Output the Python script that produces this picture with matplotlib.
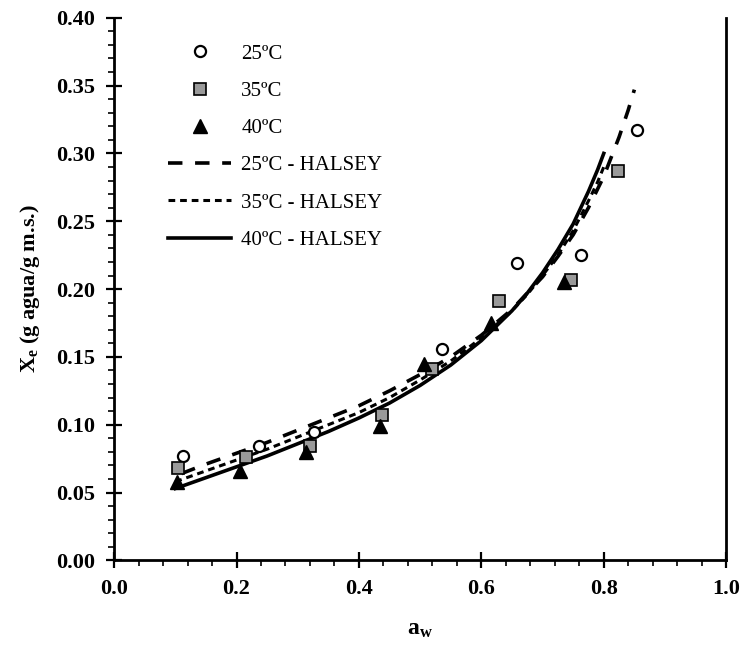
import matplotlib
matplotlib.use("Agg")
import matplotlib.pyplot as plt
from matplotlib.ticker import MultipleLocator, FormatStrFormatter

plt.rcParams['font.family'] = ['Liberation Serif', 'DejaVu Serif']
plt.rcParams['mathtext.fontset'] = 'custom'
plt.rcParams['mathtext.rm'] = 'Liberation Serif'
plt.rcParams['mathtext.bf'] = 'Liberation Serif:bold'
plt.rcParams['mathtext.it'] = 'Liberation Serif:italic'

# experimental data
aw_25 = [0.112, 0.236, 0.326, 0.536, 0.659, 0.763, 0.854]
xe_25 = [0.077, 0.084, 0.095, 0.156, 0.219, 0.225, 0.317]

aw_35 = [0.105, 0.216, 0.320, 0.438, 0.520, 0.629, 0.746, 0.823]
xe_35 = [0.068, 0.076, 0.084, 0.107, 0.141, 0.191, 0.207, 0.287]

aw_40 = [0.103, 0.205, 0.314, 0.434, 0.506, 0.615, 0.735]
xe_40 = [0.058, 0.066, 0.080, 0.099, 0.145, 0.175, 0.205]

# HALSEY model curves
aw_h25 = [0.11, 0.15, 0.20, 0.25, 0.30, 0.35, 0.40, 0.45, 0.50, 0.55, 0.60, 0.65,
          0.675, 0.70, 0.725, 0.75, 0.775, 0.80, 0.825, 0.84, 0.85]
xe_h25 = [0.064, 0.071, 0.079, 0.087, 0.096, 0.105, 0.114, 0.125, 0.137, 0.150, 0.166, 0.185,
          0.197, 0.209, 0.224, 0.240, 0.260, 0.283, 0.312, 0.332, 0.347]

aw_h35 = [0.10, 0.15, 0.20, 0.25, 0.30, 0.35, 0.40, 0.45, 0.50, 0.55, 0.60, 0.65,
          0.675, 0.70, 0.725, 0.75, 0.775, 0.79, 0.80]
xe_h35 = [0.058, 0.066, 0.074, 0.082, 0.091, 0.100, 0.109, 0.120, 0.133, 0.147, 0.164, 0.184,
          0.196, 0.210, 0.225, 0.243, 0.265, 0.279, 0.290]

aw_h40 = [0.10, 0.15, 0.20, 0.25, 0.30, 0.35, 0.40, 0.45, 0.50, 0.55, 0.60, 0.65,
          0.675, 0.70, 0.725, 0.75, 0.775, 0.79, 0.80]
xe_h40 = [0.053, 0.061, 0.069, 0.077, 0.086, 0.095, 0.105, 0.116, 0.129, 0.144, 0.162, 0.184,
          0.197, 0.212, 0.229, 0.248, 0.272, 0.288, 0.300]

x_ticks = [0.0, 0.2, 0.4, 0.6, 0.8, 1.0]
y_ticks = [0.00, 0.05, 0.10, 0.15, 0.20, 0.25, 0.30, 0.35, 0.40]

fig = plt.figure(figsize=(7.41, 6.57), dpi=100)
ax = fig.add_axes([0.154, 0.147, 0.826, 0.826])

ax.plot(aw_25, xe_25, linestyle='none', marker='o', markersize=8,
        markerfacecolor='white', markeredgecolor='black', markeredgewidth=1.6, label='25ºC', zorder=4)
ax.plot(aw_35, xe_35, linestyle='none', marker='s', markersize=8,
        markerfacecolor='#9a9a9a', markeredgecolor='black', markeredgewidth=1.2, label='35ºC', zorder=4)
ax.plot(aw_40, xe_40, linestyle='none', marker='^', markersize=10,
        markerfacecolor='black', markeredgecolor='black', label='40ºC', zorder=4)

ax.plot(aw_h25, xe_h25, color='black', linewidth=2.6, dashes=(4, 3.5), label='25ºC - HALSEY', zorder=3)
ax.plot(aw_h35, xe_h35, color='black', linewidth=2.2, dashes=(2.2, 1.6), label='35ºC - HALSEY', zorder=3)
ax.plot(aw_h40, xe_h40, color='black', linewidth=2.6, linestyle='-', label='40ºC - HALSEY', zorder=3)

ax.set_xlim(0.0, 1.0)
ax.set_ylim(0.0, 0.40)
ax.set_xticks(x_ticks)
ax.set_yticks(y_ticks)
ax.xaxis.set_major_formatter(FormatStrFormatter('%.1f'))
ax.yaxis.set_major_formatter(FormatStrFormatter('%.2f'))
ax.xaxis.set_minor_locator(MultipleLocator(0.04))
ax.yaxis.set_minor_locator(MultipleLocator(0.01))

ax.spines['top'].set_visible(False)
for s in ['left', 'bottom', 'right']:
    ax.spines[s].set_linewidth(2.0)

ax.tick_params(which='major', direction='inout', length=11, width=1.6, labelsize=16, pad=8)
ax.tick_params(which='minor', direction='out', length=4, width=1.2)
ax.tick_params(axis='x', which='both', top=False)
ax.tick_params(axis='y', which='both', right=False)
for lbl in ax.get_xticklabels() + ax.get_yticklabels():
    lbl.set_fontweight('bold')

ax.set_xlabel(r'$\mathbf{a}_\mathbf{w}$', fontsize=17, labelpad=14)
ax.set_ylabel(r'$\mathbf{X}_\mathbf{e}$ (g agua/g m.s.)', fontsize=16, fontweight='bold', labelpad=10)

leg = ax.legend(loc='upper left', bbox_to_anchor=(0.075, 0.967), frameon=False,
                fontsize=15, handlelength=3.0, handletextpad=0.5, labelspacing=0.85,
                borderaxespad=0.0, markerscale=1.0)

fig.savefig('out.png', dpi=100)
